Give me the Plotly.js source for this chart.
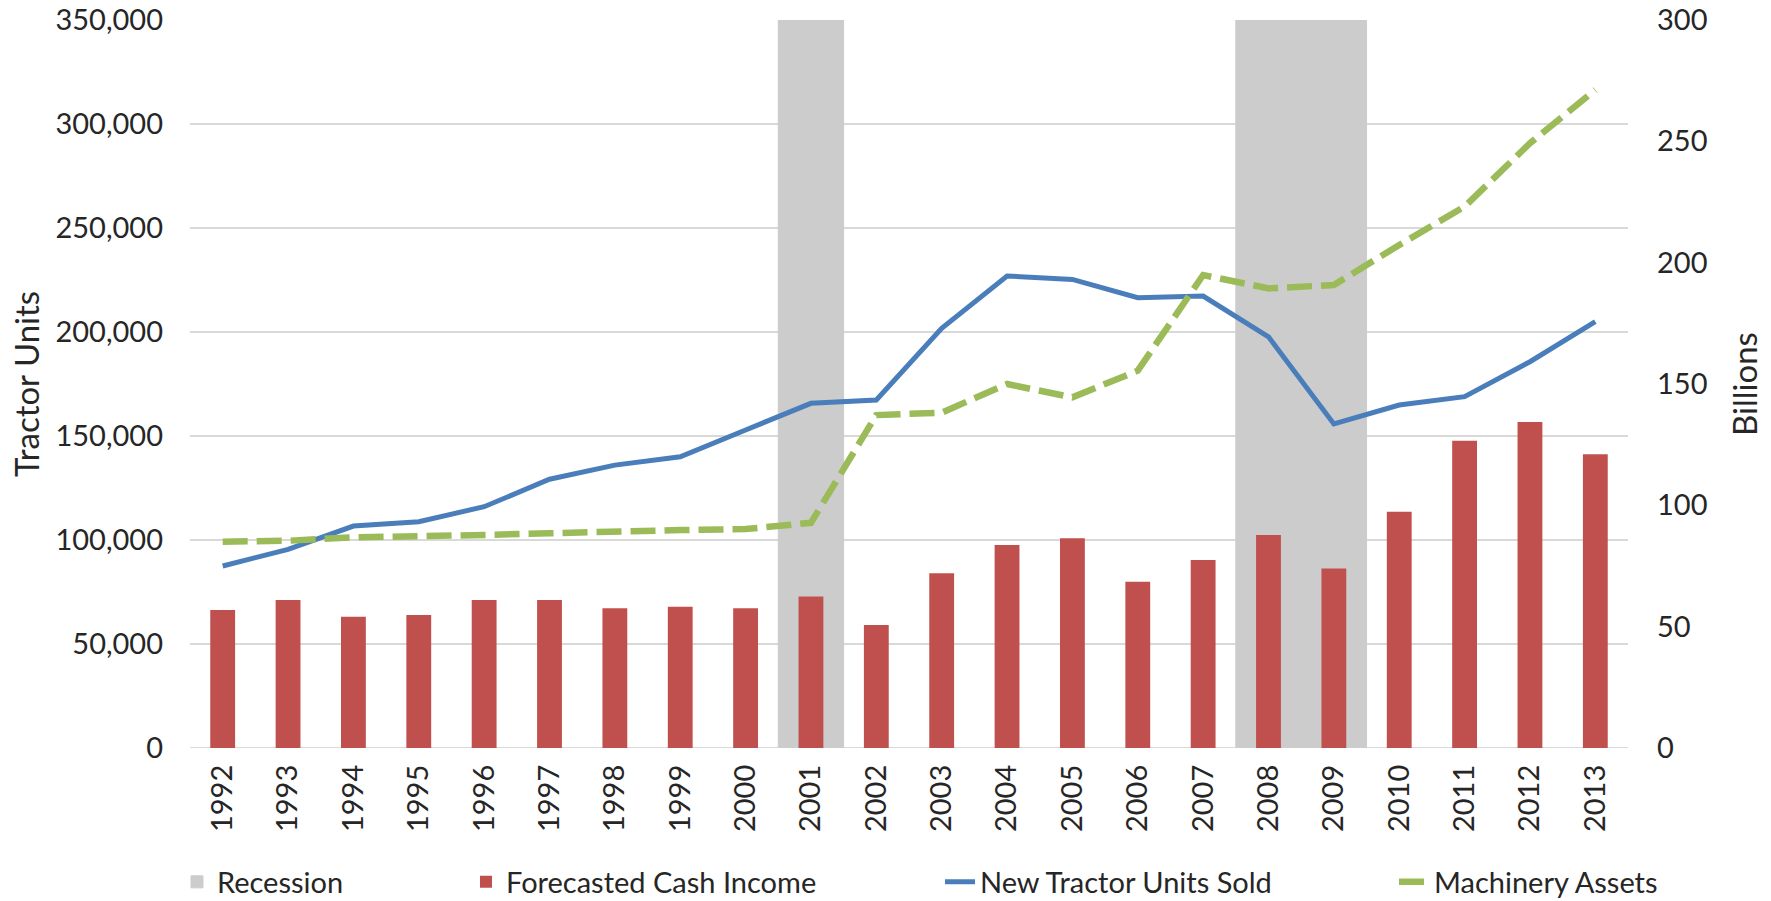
<!DOCTYPE html>
<html>
<head>
<meta charset="utf-8">
<script src="https://cdn.plot.ly/plotly-3.0.1.min.js"></script>
<style>html,body{margin:0;padding:0;background:#fff;}#chart{width:1771px;height:901px;}</style>
</head>
<body>
<div id="chart"></div>
<script>
const years = ["1992","1993","1994","1995","1996","1997","1998","1999","2000","2001","2002","2003","2004","2005","2006","2007","2008","2009","2010","2011","2012","2013"];
const recession = [0,0,0,0,0,0,0,0,0,1,0,0,0,0,0,0,1,1,0,0,0,0];
const cashIncome = [56.9,61.0,54.1,54.8,61.0,61.0,57.6,58.2,57.6,62.4,50.7,72.0,83.7,86.4,68.5,77.5,87.8,74.0,97.4,126.6,134.3,121.0];
const tractorUnits = [87500,95500,106700,108800,116000,129200,136000,140000,152900,165700,167300,201800,226900,225300,216500,217300,197700,155800,164900,168900,185700,205000];
const machineryAssets = [85.0,85.4,86.8,87.1,87.8,88.5,89.4,89.8,90.2,92.8,137.2,138.2,150.0,144.5,155.5,194.9,189.4,190.8,207.3,223.1,249.2,271.2];
const leftTicks = [0,50000,100000,150000,200000,250000,300000,350000];
const rightTicks = [0,50,100,150,200,250,300];

const FONT = "Lato, 'Open Sans', sans-serif";
const TXT = "#262626";
const FS = 29;
const TFS = 33;

const traces = [
  {type:"bar", name:"Recession", x:years, y:recession, yaxis:"y", width:1,
   marker:{color:"#cccccc", line:{width:1, color:"#cccccc"}}, legend:"legend", hoverinfo:"skip"},
  {type:"scatter", mode:"lines", name:"New Tractor Units Sold", x:years, y:tractorUnits, yaxis:"y2",
   line:{color:"#4a7ebb", width:5}, legend:"legend3"},
  {type:"bar", name:"Forecasted Cash Income", x:years, y:cashIncome, yaxis:"y3", width:0.38,
   marker:{color:"#c0504d", line:{width:0}}, legend:"legend2"},
  {type:"scatter", mode:"lines", name:"Machinery Assets", x:years, y:machineryAssets, yaxis:"y3",
   line:{color:"#9bbb59", width:6.5, dash:"25px,9px"}, legend:"legend4"}
];

function leg(xpx){
  return {xref:"container", yref:"container", x:xpx/1771, y:1-882/901, xanchor:"left", yanchor:"middle",
          orientation:"h", font:{family:FONT, size:FS, color:TXT}, bgcolor:"rgba(0,0,0,0)", itemwidth:30};
}

const layout = {
  width:1771, height:901,
  margin:{l:190, r:143, t:20, b:153},
  paper_bgcolor:"#ffffff", plot_bgcolor:"#ffffff",
  font:{family:FONT, size:FS, color:TXT},
  barmode:"overlay",
  showlegend:true,
  legend:leg(177), legend2:leg(466), legend3:leg(940), legend4:leg(1394),
  xaxis:{type:"category", categoryorder:"array", categoryarray:years, range:[-0.5,21.5],
         tickangle:-90, showgrid:false, zeroline:false, showline:false, ticks:"",
         ticklabelstandoff:10, tickfont:{family:FONT, size:FS, color:TXT}},
  yaxis:{range:[0,1], visible:false, fixedrange:true},
  yaxis2:{overlaying:"y", side:"left", range:[0,350000], tickvals:leftTicks, tickformat:",d",
          showgrid:true, gridcolor:"#d9d9d9", gridwidth:1.3, zeroline:false, showline:false, ticks:"",
          ticklabelstandoff:26, tickfont:{family:FONT, size:FS, color:TXT},
          title:{text:"Tractor Units", standoff:5, font:{family:FONT, size:TFS, color:TXT}}},
  yaxis3:{overlaying:"y", side:"right", range:[0,300], tickvals:rightTicks,
          showgrid:false, zeroline:false, showline:false, ticks:"",
          ticklabelstandoff:28, tickfont:{family:FONT, size:FS, color:TXT},
          title:{text:"Billions", standoff:27, font:{family:FONT, size:TFS, color:TXT}}}
};

Plotly.newPlot("chart", traces, layout, {displayModeBar:false, staticPlot:true});
</script>
</body>
</html>
